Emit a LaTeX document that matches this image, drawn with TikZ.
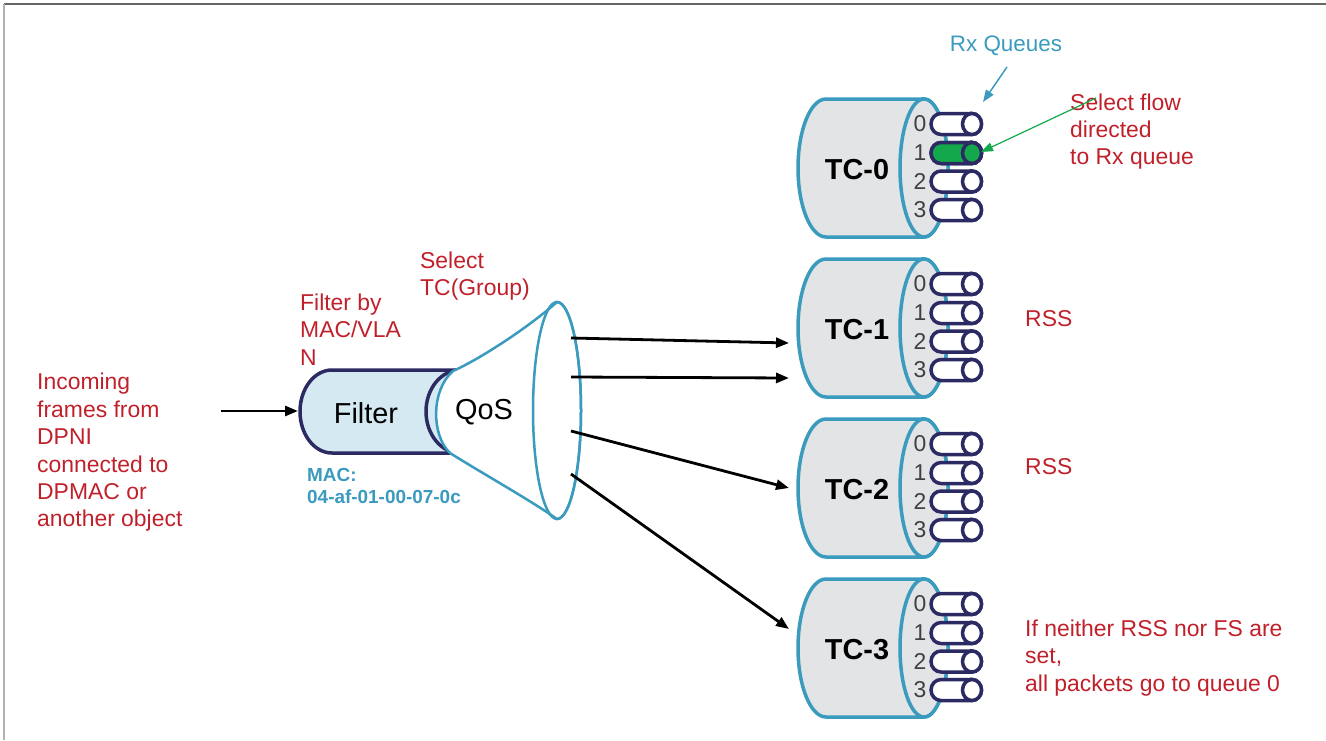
\documentclass[tikz,border=0pt]{standalone}
\usepackage{fontspec}
\setmainfont{Liberation Sans}
\usetikzlibrary{arrows.meta}

\definecolor{flowred}{RGB}{192,32,42}
\definecolor{qteal}{RGB}{58,155,190}
\definecolor{qnavy}{RGB}{44,42,98}
\definecolor{tcgray}{RGB}{227,228,230}
\definecolor{filterblue}{RGB}{212,233,242}
\definecolor{flowgreen}{RGB}{18,168,75}

% one Rx queue tube: #1 = y of its axis, #2 = fill
\newcommand{\rxtube}[2]{%
  \draw[tube, fill=#2] (972,#1-10.5) -- (941,#1-10.5)
    arc[start angle=90, end angle=270, x radius=10bp, y radius=10.5bp]
    -- (972,#1+10.5)
    arc[start angle=-90, end angle=90, x radius=9.5bp, y radius=10.5bp] -- cycle;
  \draw[tube, fill=#2] (972,#1) ellipse[x radius=9.5bp, y radius=10.5bp];}

\begin{document}
\begin{tikzpicture}[
    x=1bp,
    y=-1bp,
    redtxt/.style={text=flowred, font=\fontsize{23}{27.5}\selectfont, align=left, anchor=west, inner sep=0pt},
    tcbody/.style={draw=qteal, line width=3.5bp, fill=tcgray},
    tube/.style={draw=qnavy, line width=3.5bp},
    qnum/.style={text=black!75, font=\fontsize{23}{23}\selectfont, inner sep=0pt},
    flow/.style={line width=2.8bp, -{Triangle[length=13bp, width=10bp]}}
]
\useasboundingbox (0,0) rectangle (1326,740);
\draw[gray!80!black, line width=1.5bp] (1326,4) -- (4,4);
\draw[gray!60, line width=1.5bp] (4,4) -- (4,740);

% traffic classes with their queues
\foreach \i in {0,...,3} {
    \pgfmathsetmacro\yc{168+160*\i}
    \draw[tcbody] (924,\yc-69) -- (826,\yc-69)
        arc[start angle=90, end angle=270, x radius=28bp, y radius=69bp]
        -- (924,\yc+69)
        arc[start angle=-90, end angle=90, x radius=24bp, y radius=69bp] -- cycle;
    \draw[tcbody] (924,\yc) ellipse[x radius=24bp, y radius=69bp];
    \node[font=\fontsize{29}{29}\selectfont\bfseries, inner sep=0pt] (tc\i) at (857,\yc+2) {TC-\i};
    \foreach \r/\dy in {0/-44,1/-15,2/13.5,3/42} {
        \pgfmathsetmacro\yq{\yc+\dy}
        \node[qnum] (q\i\r) at (920,\yq) {\r};
        \rxtube{\yq}{white}
    }
}
\rxtube{153}{flowgreen}

% filter and QoS cone
\draw[qnavy, line width=3.5bp, fill=filterblue] (460,370) -- (332,370)
    arc[start angle=90, end angle=270, x radius=32bp, y radius=41.5bp]
    -- (460,453)
    arc[start angle=-90, end angle=90, x radius=34bp, y radius=41.5bp] -- cycle;
\draw[qnavy, line width=3.5bp] (460,370)
    arc[start angle=90, end angle=270, x radius=34bp, y radius=41.5bp];
\draw[qteal, line width=2.5bp, fill=white] (453,371) .. controls (482,358) and (530,326) .. (557,302)
    arc[start angle=90, end angle=-90, x radius=24bp, y radius=108.5bp]
    .. controls (530,500) and (480,472) .. (450,453)
    .. controls (431,435) and (431,390) .. (453,371) -- cycle;
\draw[qteal, line width=2.5bp] (557,410.5) ellipse[x radius=24bp, y radius=108.5bp];
\node[font=\fontsize{29}{29}\selectfont, inner sep=0pt] (filter) at (366,413) {Filter};
\node[font=\fontsize{29}{29}\selectfont, inner sep=0pt] (qos) at (484,412) {QoS};

% texts
\node[redtxt] (incoming) at (37,452.5) {Incoming\\frames from\\DPNI\\connected to\\DPMAC or\\another object};
\node[redtxt] (filterby) at (300,329.5) {Filter by\\MAC/VLA\\N};
\node[redtxt] (selecttc) at (420,276) {Select\\TC(Group)};
\node[redtxt] (selectflow) at (1070,131.5) {Select flow\\directed\\to Rx queue};
\node[redtxt] (rss1) at (1025,318.5) {RSS};
\node[redtxt] (rss2) at (1025,466.5) {RSS};
\node[redtxt] (neither) at (1025,658) {If neither RSS nor FS are\\set,\\all packets go to queue 0};
\node[text=qteal, font=\fontsize{22.5}{22.5}\selectfont, inner sep=0pt] (rxq) at (1006,46) {Rx Queues};
\node[text=qteal, font=\fontsize{19}{22}\selectfont\bfseries, align=left, anchor=west, inner sep=0pt] (mac) at (307,486) {MAC:\\04-af-01-00-07-0c};

% connectors
\coordinate (inc) at (221,411);
\coordinate (filterin) at (298,411);
\draw[flow] (inc) -- (filterin);
\coordinate (c1) at (571,338);
\coordinate (c2) at (571,377);
\coordinate (c3) at (571,431);
\coordinate (c4) at (571,474);
\coordinate (t1) at (789,343);
\coordinate (t2) at (789,378);
\coordinate (t3) at (789,488);
\coordinate (t4) at (789,629);
\draw[flow] (c1) -- (t1);
\draw[flow] (c2) -- (t2);
\draw[flow] (c3) -- (t3);
\draw[flow] (c4) -- (t4);
\coordinate (rxqfoot) at (1007,67);
\coordinate (rxqtip) at (983,102);
\draw[qteal, line width=1.5bp, -{Triangle[length=12bp, width=9bp]}] (rxqfoot) -- (rxqtip);
\coordinate (flowfoot) at (1096,98);
\coordinate (flowtip) at (981,152);
\draw[flowgreen, line width=1.2bp, -{Triangle[length=12bp, width=9bp]}] (flowfoot) -- (flowtip);
\end{tikzpicture}
\end{document}
